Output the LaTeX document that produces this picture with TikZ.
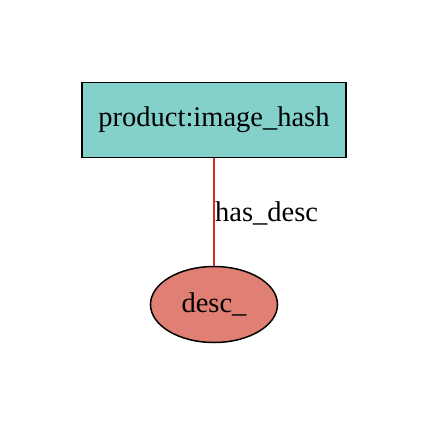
\documentclass[tikz,border=0pt]{standalone}
\usepackage{fontspec}
\setmainfont{Liberation Serif}
\usetikzlibrary{shapes.geometric}
\definecolor{boxfill}{HTML}{84D0CB}
\definecolor{ellfill}{HTML}{E07F74}
\definecolor{edgered}{HTML}{D42A2A}
\begin{document}
\begin{tikzpicture}[x=1bp,y=-1bp,
  every node/.style={font=\fontsize{28.5bp}{34bp}\selectfont, inner sep=0pt},
  boxnode/.style={draw=black, line width=1.5bp, fill=boxfill, rectangle, minimum width=264bp, minimum height=75bp},
  ellnode/.style={draw=black, line width=1.5bp, fill=ellfill, ellipse, minimum width=127bp, minimum height=76bp},
  edgeline/.style={draw=edgered, line width=1.5bp}]
\fill[white] (0,0) rectangle (429,425);
\useasboundingbox (0,0) rectangle (429,425);
\node[boxnode] (prod) at (214,120) {product:image\_hash};
\node[ellnode] (desc) at (214,304.5) {desc\_};
\draw[edgeline] (prod) -- (desc);
\node[anchor=base west] (lbl) at (215,221) {has\_desc};
\end{tikzpicture}
\end{document}
